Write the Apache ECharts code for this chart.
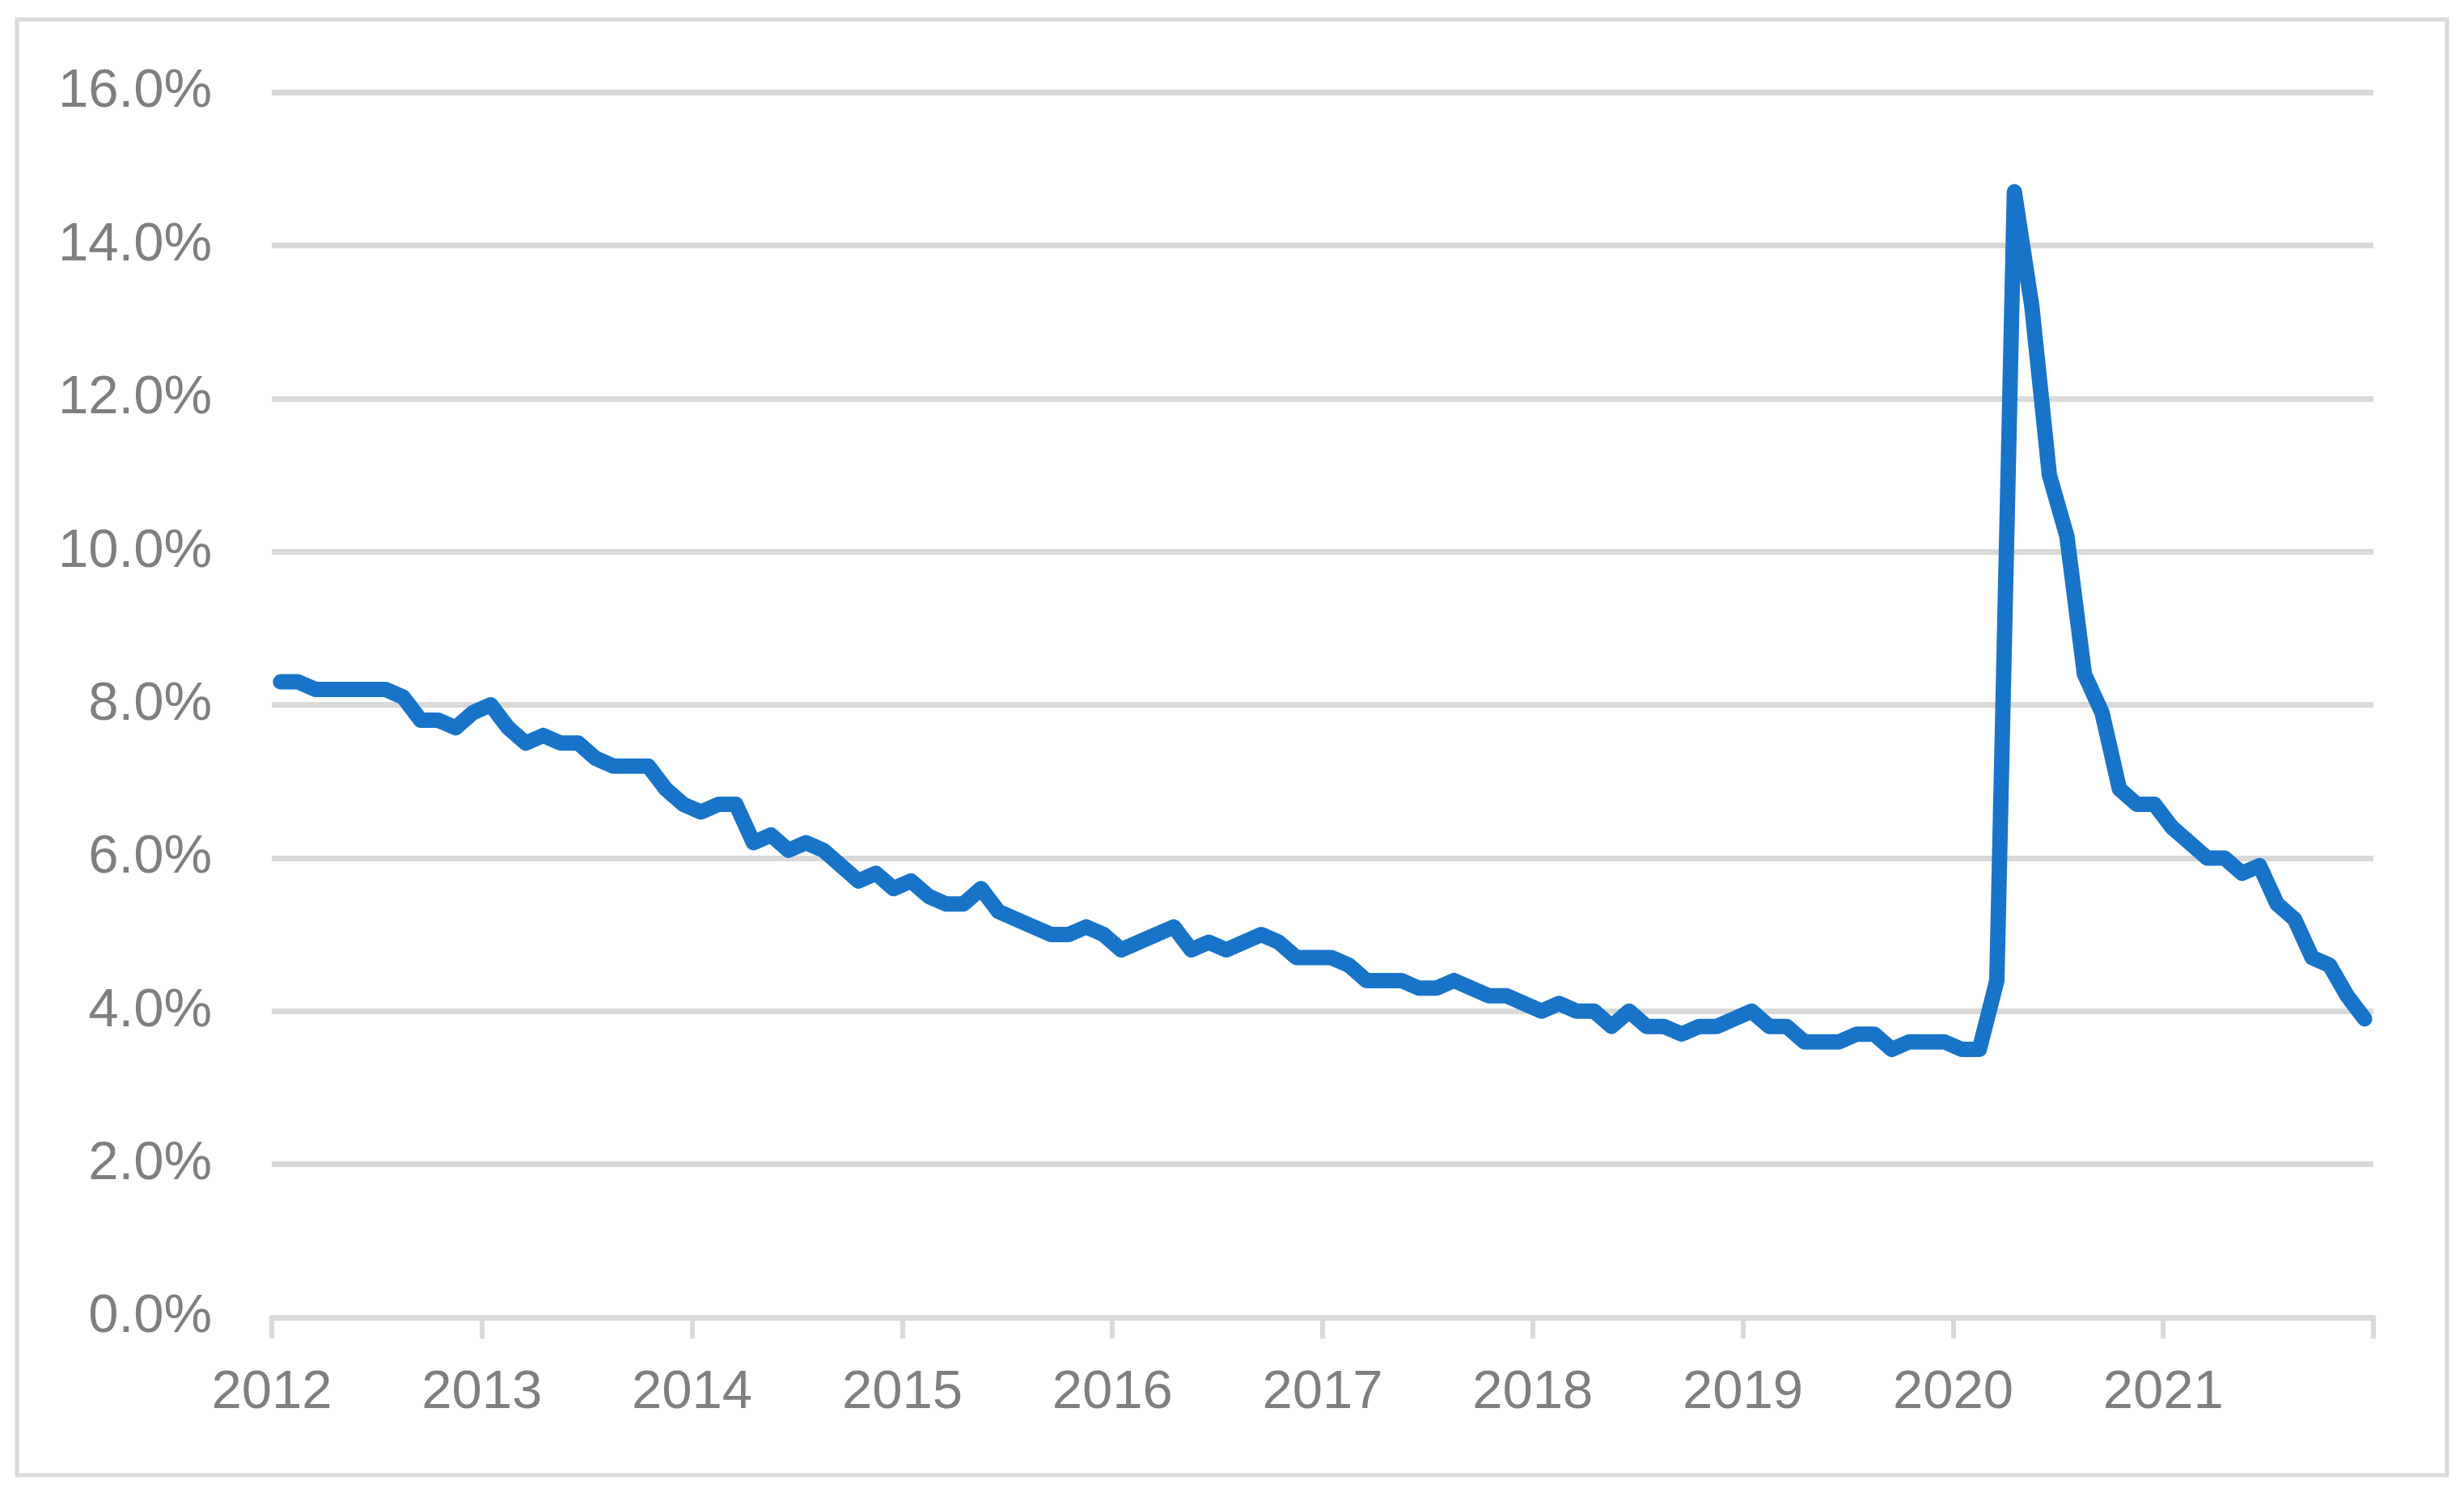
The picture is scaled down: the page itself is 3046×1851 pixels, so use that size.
<!DOCTYPE html>
<html>
<head>
<meta charset="utf-8">
<script src="https://cdn.jsdelivr.net/npm/echarts@6/dist/echarts.min.js"></script>
<style>
html,body{margin:0;padding:0;background:#fff;}
#chart{width:3046px;height:1851px;}
</style>
</head>
<body>
<div id="chart"></div>
<script>
// Monthly unemployment rate (%), Jan..Dec of each year
const years = [2012, 2013, 2014, 2015, 2016, 2017, 2018, 2019, 2020, 2021];
const rate2012 = [8.3, 8.3, 8.2, 8.2, 8.2, 8.2, 8.2, 8.1, 7.8, 7.8, 7.7, 7.9];
const rate2013 = [8.0, 7.7, 7.5, 7.6, 7.5, 7.5, 7.3, 7.2, 7.2, 7.2, 6.9, 6.7];
const rate2014 = [6.6, 6.7, 6.7, 6.2, 6.3, 6.1, 6.2, 6.1, 5.9, 5.7, 5.8, 5.6];
const rate2015 = [5.7, 5.5, 5.4, 5.4, 5.6, 5.3, 5.2, 5.1, 5.0, 5.0, 5.1, 5.0];
const rate2016 = [4.8, 4.9, 5.0, 5.1, 4.8, 4.9, 4.8, 4.9, 5.0, 4.9, 4.7, 4.7];
const rate2017 = [4.7, 4.6, 4.4, 4.4, 4.4, 4.3, 4.3, 4.4, 4.3, 4.2, 4.2, 4.1];
const rate2018 = [4.0, 4.1, 4.0, 4.0, 3.8, 4.0, 3.8, 3.8, 3.7, 3.8, 3.8, 3.9];
const rate2019 = [4.0, 3.8, 3.8, 3.6, 3.6, 3.6, 3.7, 3.7, 3.5, 3.6, 3.6, 3.6];
const rate2020 = [3.5, 3.5, 4.4, 14.7, 13.2, 11.0, 10.2, 8.4, 7.9, 6.9, 6.7, 6.7];
const rate2021 = [6.4, 6.2, 6.0, 6.0, 5.8, 5.9, 5.4, 5.2, 4.7, 4.6, 4.2, 3.9];
const yTicks = [0, 2, 4, 6, 8, 10, 12, 14, 16];

const ratesByYear = [rate2012, rate2013, rate2014, rate2015, rate2016, rate2017, rate2018, rate2019, rate2020, rate2021];

// x = months since Jan 2012, each value plotted at mid-month
const seriesData = [];
ratesByYear.forEach((arr, yi) => {
  arr.forEach((v, m) => {
    seriesData.push([yi * 12 + m + 0.5, v]);
  });
});

const gray = '#7f7f7f';
const lineGray = '#d9d9d9';
const font = '"Liberation Sans", Arial, sans-serif';

const chart = echarts.init(document.getElementById('chart'), null, {renderer: 'canvas'});
chart.setOption({
  animation: false,
  backgroundColor: '#ffffff',
  graphic: [{
    type: 'rect',
    shape: {x: 21, y: 24, width: 3004, height: 1800},
    style: {fill: 'none', stroke: lineGray, lineWidth: 5},
    silent: true
  }],
  grid: {left: 336, right: 112, top: 114, bottom: 222, containLabel: false},
  xAxis: {
    type: 'value',
    min: 0,
    max: years.length * 12,
    interval: 12,
    axisLine: {show: true, lineStyle: {color: lineGray, width: 7}},
    axisTick: {show: true, length: 26, lineStyle: {color: lineGray, width: 6}},
    splitLine: {show: false},
    axisLabel: {
      show: true,
      showMinLabel: true,
      showMaxLabel: true,
      margin: 60,
      color: gray,
      fontFamily: font,
      fontSize: 67,
      lineHeight: 67,
      formatter: function (v) {
        const idx = Math.round(v / 12);
        return idx < years.length ? String(years[idx]) : '';
      }
    }
  },
  yAxis: {
    type: 'value',
    min: yTicks[0],
    max: yTicks[yTicks.length - 1],
    interval: yTicks[1] - yTicks[0],
    axisLine: {show: false},
    axisTick: {show: false},
    splitLine: {show: true, lineStyle: {color: lineGray, width: 7}},
    axisLabel: {
      margin: 74,
      color: gray,
      fontFamily: font,
      fontSize: 67,
      formatter: function (v) { return v.toFixed(1) + '%'; }
    }
  },
  series: [{
    type: 'line',
    data: seriesData,
    showSymbol: false,
    symbol: 'none',
    smooth: false,
    lineStyle: {color: '#1874C9', width: 19, cap: 'round', join: 'round'},
    z: 5
  }]
});
</script>
</body>
</html>
